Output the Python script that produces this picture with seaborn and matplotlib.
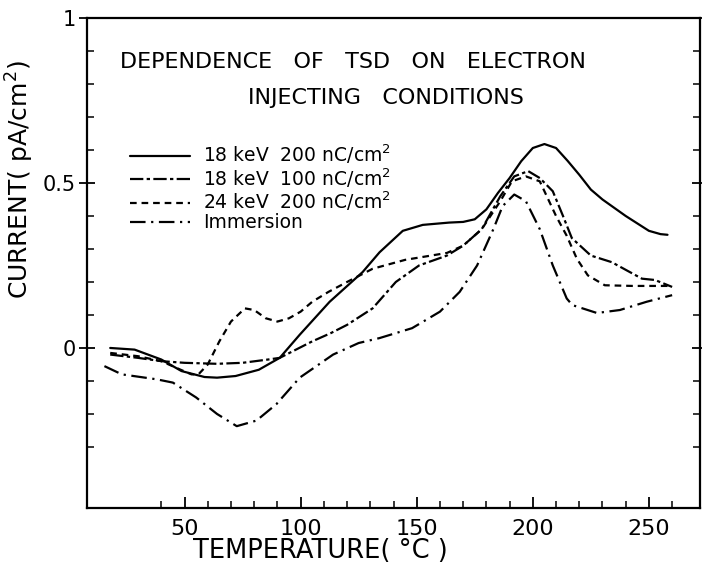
import numpy as np
import pandas as pd
import matplotlib
matplotlib.use("Agg")
import matplotlib.pyplot as plt
from matplotlib.ticker import FixedLocator
import seaborn as sns

sns.set_theme(style="white")
plt.rcParams['font.family'] = ['DejaVu Sans']
plt.rcParams['text.color'] = 'black'

# ---- data ----
labels = ["18 keV  200 nC/cm$^2$", "18 keV  100 nC/cm$^2$",
          "24 keV  200 nC/cm$^2$", "Immersion"]

t_solid = [18, 28.5, 40, 48.7, 58.6, 64, 72, 82, 91, 99.6, 112.5, 126.7, 134, 144,
           152.6, 164, 170, 175, 180, 185, 190, 195, 200, 205, 210, 215, 220, 225,
           230, 240, 250, 255, 258]
i_solid = [0, -0.005, -0.035, -0.07, -0.088, -0.09, -0.085, -0.066, -0.03, 0.04, 0.14,
           0.23, 0.29, 0.355, 0.373, 0.38, 0.382, 0.39, 0.42, 0.47, 0.515, 0.566, 0.606,
           0.618, 0.606, 0.567, 0.525, 0.48, 0.45, 0.40, 0.355, 0.345, 0.343]

t_18_100 = [18, 30, 40, 50, 64, 75, 86, 91, 98, 105, 113, 120, 131, 141, 151, 163,
            170, 178, 186, 192, 198, 203, 208.6, 213, 216.8, 225, 234, 241, 247,
            252.6, 260]
i_18_100 = [-0.02, -0.03, -0.04, -0.045, -0.048, -0.045, -0.035, -0.03, -0.005, 0.02,
            0.045, 0.07, 0.12, 0.2, 0.25, 0.28, 0.31, 0.36, 0.46, 0.52, 0.536, 0.515,
            0.475, 0.40, 0.333, 0.28, 0.26, 0.233, 0.21, 0.206, 0.185]

t_24_200 = [18, 30, 40, 48, 53, 56, 60, 65, 70, 76, 80, 85, 90, 95, 100, 105, 112,
            120, 131, 145, 163, 170, 178, 186, 191, 197, 203, 210, 214.6, 219, 223.7,
            231, 243, 258]
i_24_200 = [-0.015, -0.025, -0.04, -0.065, -0.08, -0.08, -0.05, 0.02, 0.08, 0.12,
            0.115, 0.09, 0.08, 0.09, 0.11, 0.14, 0.17, 0.2, 0.24, 0.267, 0.288, 0.31,
            0.36, 0.445, 0.505, 0.52, 0.505, 0.40, 0.34, 0.27, 0.22, 0.19, 0.188, 0.188]

t_imm = [15.5, 23, 38, 45, 55, 64, 72.5, 81, 89.6, 99.6, 114, 125, 134, 148, 160,
         168.5, 176, 183, 187, 192, 197, 203, 208.6, 214.6, 217, 227.6, 237.5, 249, 260]
i_imm = [-0.055, -0.08, -0.095, -0.105, -0.15, -0.2, -0.237, -0.22, -0.17, -0.09,
         -0.02, 0.015, 0.03, 0.06, 0.11, 0.17, 0.25, 0.36, 0.43, 0.465, 0.445, 0.36,
         0.25, 0.15, 0.13, 0.106, 0.115, 0.14, 0.16]

x_major = [50, 100, 150, 200, 250]
x_minor = list(range(40, 261, 10))
y_major = [0, 0.5, 1]
y_major_labels = ["0", "0.5", "1"]
y_minor = [round(v, 1) for v in np.arange(-0.3, 0.95, 0.1)]

frames = []
for lab, t, c in zip(labels, [t_solid, t_18_100, t_24_200, t_imm],
                     [i_solid, i_18_100, i_24_200, i_imm]):
    frames.append(pd.DataFrame({"T": t, "I": c, "series": lab}))
df = pd.concat(frames, ignore_index=True)

dash_styles = {labels[0]: "",
               labels[1]: (6, 1.5, 1.5, 1.5),
               labels[2]: (3, 2.2),
               labels[3]: (7, 2.5, 1, 2.5)}

fig = plt.figure(figsize=(7.02, 5.66), dpi=100)
ax = fig.add_axes([87/702, 1-508/566, (700-87)/702, (508-18)/566])

sns.lineplot(data=df, x="T", y="I", style="series", dashes=dash_styles,
             hue="series", palette={l: "black" for l in labels},
             estimator=None, sort=False, linewidth=1.6, ax=ax, legend=True)

ax.set_xlim(8, 272)
ax.set_ylim(-0.485, 1.0)

for s in ax.spines.values():
    s.set_color("black")
    s.set_linewidth(1.6)

ax.xaxis.set_major_locator(FixedLocator(x_major))
ax.xaxis.set_minor_locator(FixedLocator([v for v in x_minor if v not in x_major]))
ax.yaxis.set_major_locator(FixedLocator(y_major))
ax.set_yticklabels(y_major_labels)
ax.yaxis.set_minor_locator(FixedLocator([v for v in y_minor if abs(v) > 1e-9 and abs(v - 0.5) > 1e-9]))

ax.tick_params(axis="x", which="major", direction="in", length=8, width=1.3,
               labelsize=16, pad=8, bottom=True, top=False, colors="black")
ax.tick_params(axis="x", which="minor", direction="in", length=5, width=1.3,
               bottom=True, top=False)
ax.tick_params(axis="y", which="major", direction="inout", length=12, width=1.3,
               labelsize=15, pad=2, left=True, right=True, colors="black")
ax.tick_params(axis="y", which="minor", direction="in", length=5, width=1.3,
               left=True, right=True)

ax.set_xlabel("TEMPERATURE( °C )", fontsize=18.5, color="black")
ax.xaxis.set_label_coords(0.38, -0.062)
ax.set_ylabel("CURRENT( pA/cm$^2$)", fontsize=18, color="black")
ax.yaxis.set_label_coords(-0.083, 0.67)

ax.text(0.054, 0.91, "DEPENDENCE   OF   TSD   ON   ELECTRON", transform=ax.transAxes,
        fontsize=16, va="center", ha="left", color="black")
ax.text(0.263, 0.837, "INJECTING   CONDITIONS", transform=ax.transAxes,
        fontsize=16, va="center", ha="left", color="black")

handles, labs = ax.get_legend_handles_labels()
leg = ax.legend(handles, labs, loc="upper left", bbox_to_anchor=(0.07, 0.745),
                frameon=False, fontsize=13.5, handlelength=3.2, handletextpad=0.7,
                labelspacing=0.0, borderpad=0, borderaxespad=0)
for h in leg.get_lines():
    h.set_linewidth(1.6)
for tx in leg.get_texts():
    tx.set_color("black")

fig.savefig("out.png", dpi=100, facecolor="white")
